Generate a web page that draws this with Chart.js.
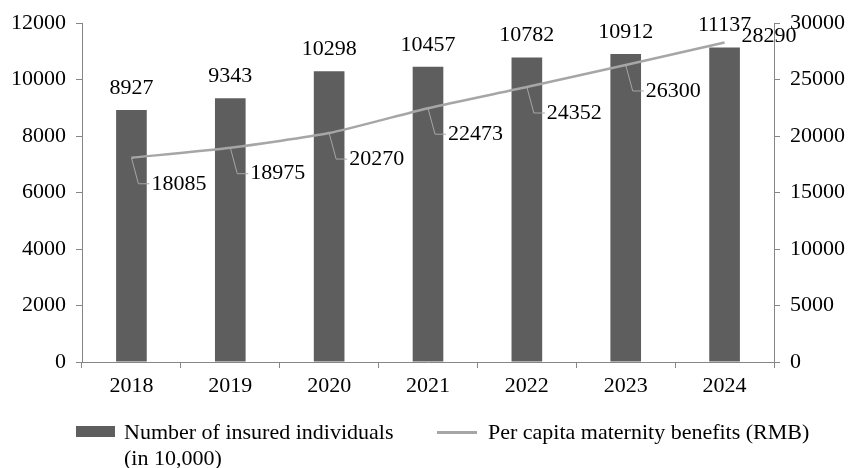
<!DOCTYPE html>
<html>
<head>
<meta charset="utf-8">
<script src="https://cdn.jsdelivr.net/npm/chart.js@4.4.1/dist/chart.umd.min.js"></script>
<style>
  body { margin: 0; background: #fff; }
  #wrap { position: relative; width: 848px; height: 468px; font-family: "Liberation Serif", serif; }
  .legend-text { position: absolute; font-size: 22px; line-height: 26px; color: #000; }
  .swatch { position: absolute; }
</style>
</head>
<body>
<div id="wrap">
  <canvas id="myChart" width="848" height="468"></canvas>
  <div class="swatch" style="left:76px;top:426px;width:39px;height:11px;background:#5e5e5e;"></div>
  <div class="legend-text" style="left:124px;top:419px;">Number of insured individuals<br>(in 10,000)</div>
  <div class="swatch" style="left:437px;top:431px;width:40px;height:3px;background:#a6a6a6;"></div>
  <div class="legend-text" style="left:488px;top:419px;">Per capita maternity benefits (RMB)</div>
</div>
<script>
var years = ['2018', '2019', '2020', '2021', '2022', '2023', '2024'];
var insured = [8927, 9343, 10298, 10457, 10782, 10912, 11137];
var benefits = [18085, 18975, 20270, 22473, 24352, 26300, 28290];

var axisColor = '#868686';
var font = { family: 'Liberation Serif', size: 22 };

// value labels: above bars, leader lines for the line points
var labelPlugin = {
    id: 'labels',
    afterDatasetsDraw: function (chart) {
        var ctx = chart.ctx;
        ctx.save();
        ctx.font = '22px "Liberation Serif"';
        ctx.fillStyle = '#000';
        ctx.textBaseline = 'middle';

        var bars = chart.getDatasetMeta(1).data;
        ctx.textAlign = 'center';
        bars.forEach(function (bar, i) {
            ctx.fillText(insured[i], bar.x, bar.y - 22);
        });

        var pts = chart.getDatasetMeta(0).data;
        ctx.textAlign = 'left';
        pts.forEach(function (p, i) {
            if (i === pts.length - 1) {
                ctx.fillText(benefits[i], p.x + 17, p.y - 6);
                return;
            }
            var dy = 26;
            ctx.strokeStyle = '#a6a6a6';
            ctx.lineWidth = 1;
            ctx.beginPath();
            ctx.moveTo(p.x, p.y);
            ctx.lineTo(p.x + 7, p.y + dy);
            ctx.lineTo(p.x + 18, p.y + dy);
            ctx.stroke();
            ctx.fillText(benefits[i], p.x + 20, p.y + dy);
        });
        ctx.restore();
    }
};

var plain = function (v) { return String(v); };

var myChart = new Chart(document.getElementById('myChart'), {
    data: {
        labels: years,
        datasets: [
            {
                type: 'line',
                label: 'Per capita maternity benefits (RMB)',
                data: benefits,
                yAxisID: 'y1',
                borderColor: '#a6a6a6',
                borderWidth: 2.5,
                pointRadius: 0,
                tension: 0.2,
                order: 0
            },
            {
                type: 'bar',
                label: 'Number of insured individuals (in 10,000)',
                data: insured,
                yAxisID: 'y',
                backgroundColor: '#5e5e5e',
                categoryPercentage: 1,
                barPercentage: 0.31,
                order: 1
            }
        ]
    },
    options: {
        responsive: false,
        animation: false,
        layout: { padding: { top: 20, bottom: 66, left: 0, right: 0 } },
        plugins: {
            legend: { display: false },
            tooltip: { enabled: false }
        },
        scales: {
            x: {
                offset: true,
                grid: { offset: true, drawOnChartArea: false, color: axisColor, tickLength: 6 },
                border: { color: axisColor },
                ticks: { color: '#000', font: font, padding: 5 },
                afterFit: function (s) { s.height = 40; }
            },
            y: {
                position: 'left',
                min: 0, max: 12000,
                ticks: { stepSize: 2000, color: '#000', font: font, padding: 10, callback: plain },
                grid: { drawOnChartArea: false, color: axisColor, tickLength: 6 },
                border: { color: axisColor },
                afterFit: function (s) { s.width = 82; }
            },
            y1: {
                position: 'right',
                min: 0, max: 30000,
                ticks: { stepSize: 5000, color: '#000', font: font, padding: 10, callback: plain },
                grid: { drawOnChartArea: false, color: axisColor, tickLength: 6 },
                border: { color: axisColor },
                afterFit: function (s) { s.width = 74; }
            }
        }
    },
    plugins: [labelPlugin]
});
</script>
</body>
</html>
